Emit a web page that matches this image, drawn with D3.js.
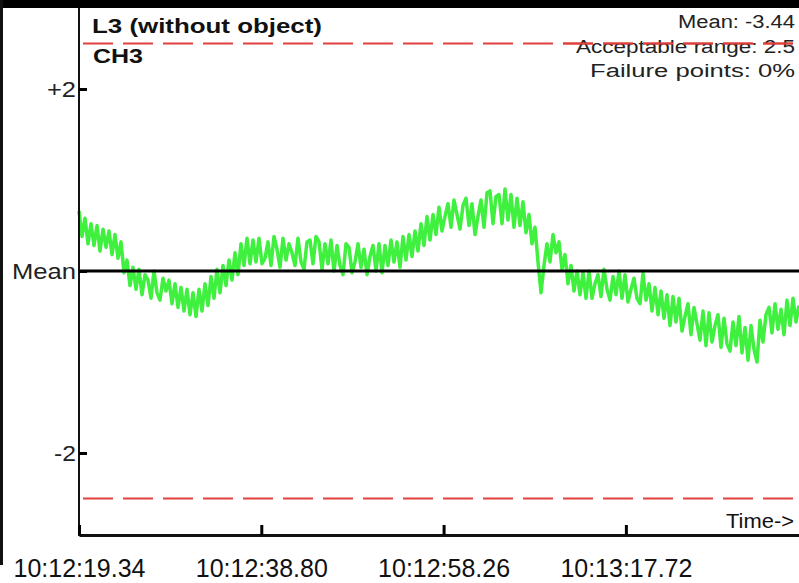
<!DOCTYPE html>
<html>
<head>
<meta charset="utf-8">
<script src="https://cdn.jsdelivr.net/npm/d3@7"></script>
<style>
  body { margin: 0; background: #fff; }
  svg { display: block; font-family: "Liberation Sans", Arial, sans-serif; }
</style>
</head>
<body>
<div id="chart"></div>
<script>
// donnees
const title = "L3 (without object)";
const channel = "CH3";
const statLines = ["Mean: -3.44", "Acceptable range: 2.5", "Failure points: 0%"];
const acceptableRange = 2.5;
const yTicks = [2, 0, -2];
const yTickLabels = ["+2", "Mean", "-2"];
const tickSeconds = [0, 19.46, 38.92, 58.38];
const tickLabels = ["10:12:19.34", "10:12:38.80", "10:12:58.26", "10:13:17.72"];
const timeSpan = 76.86;     // secondes visibles
const sampleStep = 0.32025; // secondes entre deux points

// ecart a la moyenne (canal CH3)
const deviation = [
  0.66, 0.38, 0.58, 0.30, 0.52, 0.28, 0.50, 0.22, 0.46, 0.26,
  0.44, 0.18, 0.40, 0.14, 0.32, -0.02, 0.12, -0.16, 0.04, -0.20,
  0.02, -0.26, -0.04, -0.10, -0.30, 0.00, -0.24, -0.32, -0.08, -0.22,
  -0.10, -0.36, -0.14, -0.40, -0.18, -0.44, -0.20, -0.48, -0.24, -0.50,
  -0.20, -0.44, -0.14, -0.38, -0.06, -0.30, 0.02, -0.24, 0.06, -0.16,
  0.12, -0.10, 0.20, -0.04, 0.30, 0.06, 0.36, 0.08, 0.34, 0.10,
  0.36, 0.08, 0.14, 0.32, 0.06, 0.38, 0.24, 0.04, 0.36, 0.12,
  0.30, 0.20, 0.06, 0.36, 0.10, 0.02, 0.32, 0.34, 0.08, 0.38,
  0.32, 0.02, 0.30, 0.08, 0.34, 0.00, 0.28, 0.06, -0.04, 0.30,
  0.26, -0.02, 0.10, 0.30, 0.04, 0.24, -0.04, 0.16, 0.28, 0.00,
  0.30, -0.02, 0.28, 0.06, 0.34, 0.10, 0.32, 0.04, 0.38, 0.12,
  0.40, 0.16, 0.44, 0.22, 0.52, 0.28, 0.60, 0.34, 0.62, 0.40,
  0.70, 0.44, 0.60, 0.74, 0.48, 0.78, 0.62, 0.46, 0.72, 0.80,
  0.50, 0.74, 0.40, 0.60, 0.78, 0.48, 0.86, 0.88, 0.52, 0.82,
  0.84, 0.52, 0.90, 0.56, 0.84, 0.48, 0.80, 0.50, 0.76, 0.42,
  0.62, 0.30, 0.48, 0.10, -0.24, 0.06, 0.30, 0.10, 0.40, 0.20,
  0.32, 0.02, 0.18, -0.14, 0.06, -0.22, 0.00, -0.26, -0.02, -0.30,
  0.00, -0.30, -0.14, -0.04, -0.28, 0.02, -0.20, -0.32, -0.06, -0.26,
  0.00, -0.30, -0.04, -0.34, -0.20, -0.08, -0.30, -0.36, -0.02, -0.32,
  -0.14, -0.44, -0.18, -0.48, -0.22, -0.52, -0.26, -0.60, -0.28, -0.56,
  -0.30, -0.66, -0.50, -0.36, -0.70, -0.40, -0.58, -0.76, -0.44, -0.82,
  -0.46, -0.78, -0.60, -0.48, -0.84, -0.52, -0.80, -0.88, -0.56, -0.82,
  -0.50, -0.90, -0.62, -0.98, -0.60, -0.86, -1.00, -0.54, -0.78, -0.48,
  -0.40, -0.68, -0.36, -0.64, -0.42, -0.70, -0.32, -0.60, -0.30, -0.56,
  -0.38
];

const W = 799, H = 583;
const svg = d3.select("#chart").append("svg")
  .attr("width", W)
  .attr("height", H);

//echelles
const x = d3.scaleLinear().domain([0, timeSpan]).range([79, 799]);
const y = d3.scaleLinear().domain([-3, 3]).range([544, -2]);
const xAxisY = 535;

//cadre : barre du haut et bord gauche
svg.append("rect").attr("x", 0).attr("y", 0).attr("width", W).attr("height", 8).attr("fill", "#000");
svg.append("line").attr("x1", 1.5).attr("x2", 1.5).attr("y1", 0).attr("y2", 565)
  .attr("stroke", "#111").attr("stroke-width", 3);

//limites acceptables
svg.selectAll(".limit")
  .data([acceptableRange, -acceptableRange])
  .enter().append("line")
  .attr("class", "limit")
  .attr("x1", 83).attr("x2", W)
  .attr("y1", d => y(d)).attr("y2", d => y(d))
  .attr("stroke", "#e0403c")
  .attr("stroke-width", 2)
  .attr("stroke-dasharray", "30,10");

//courbe
const line = d3.line()
  .x((d, i) => x(i * sampleStep))
  .y(d => y(d));

svg.append("path")
  .datum(deviation)
  .attr("d", line)
  .attr("fill", "none")
  .attr("stroke", "#3ff03f")
  .attr("stroke-width", 3.5)
  .attr("stroke-linejoin", "round");

//ligne moyenne
svg.append("line")
  .attr("x1", 79).attr("x2", W)
  .attr("y1", y(0)).attr("y2", y(0))
  .attr("stroke", "#000").attr("stroke-width", 3);

//axe Y
svg.append("line").attr("x1", 79).attr("x2", 79).attr("y1", 8).attr("y2", xAxisY + 1)
  .attr("stroke", "#111").attr("stroke-width", 2);

const yLabelLengths = [29, 64, 22];
const yAxis = svg.append("g")
  .attr("transform", "translate(79,0)")
  .call(d3.axisLeft(y).tickValues(yTicks).tickSize(-8).tickPadding(3)
    .tickFormat((d, i) => yTickLabels[i]));
yAxis.select(".domain").remove();
yAxis.selectAll(".tick line").attr("stroke", "#000").attr("stroke-width", 3);
yAxis.selectAll(".tick text")
  .attr("font-size", 22)
  .attr("fill", "#222")
  .attr("font-family", "Liberation Sans, Arial, sans-serif")
  .attr("dy", "0.36em")
  .attr("textLength", (d, i) => yLabelLengths[i])
  .attr("lengthAdjust", "spacingAndGlyphs");

//axe X
const xAxis = svg.append("g")
  .attr("transform", `translate(0,${xAxisY})`)
  .call(d3.axisBottom(x).tickValues(tickSeconds).tickSize(-10).tickSizeOuter(0).tickPadding(42)
    .tickFormat((d, i) => tickLabels[i]));
xAxis.select(".domain").attr("stroke", "#111").attr("stroke-width", 3);
xAxis.selectAll(".tick line").attr("stroke", "#000").attr("stroke-width", 3);
xAxis.selectAll(".tick text")
  .attr("font-size", 26)
  .attr("fill", "#111")
  .attr("font-family", "Liberation Sans, Arial, sans-serif")
  .attr("dy", 0)
  .attr("textLength", 132)
  .attr("lengthAdjust", "spacingAndGlyphs");

svg.append("text")
  .attr("x", 794).attr("y", 528)
  .attr("text-anchor", "end")
  .attr("font-size", 20)
  .attr("fill", "#111")
  .attr("textLength", 68).attr("lengthAdjust", "spacingAndGlyphs")
  .text("Time->");

//titres
svg.append("text")
  .attr("x", 92).attr("y", 33)
  .attr("font-size", 20).attr("font-weight", "bold").attr("fill", "#111")
  .attr("textLength", 230).attr("lengthAdjust", "spacingAndGlyphs")
  .text(title);
svg.append("text")
  .attr("x", 93).attr("y", 63)
  .attr("font-size", 20).attr("font-weight", "bold").attr("fill", "#111")
  .attr("textLength", 50).attr("lengthAdjust", "spacingAndGlyphs")
  .text(channel);

//statistiques
const statLengths = [117, 219, 205];
svg.selectAll(".stat")
  .data(statLines)
  .enter().append("text")
  .attr("class", "stat")
  .attr("x", 795)
  .attr("y", (d, i) => 28 + i * 24.5)
  .attr("text-anchor", "end")
  .attr("font-size", 18)
  .attr("fill", "#222")
  .attr("textLength", (d, i) => statLengths[i])
  .attr("lengthAdjust", "spacingAndGlyphs")
  .text(d => d);

// la ligne rouge du haut passe par-dessus le texte
svg.append("line")
  .attr("x1", 560).attr("x2", W)
  .attr("y1", y(acceptableRange)).attr("y2", y(acceptableRange))
  .attr("stroke", "#e0403c").attr("stroke-width", 2)
  .attr("stroke-dasharray", "30,10")
  .attr("stroke-dashoffset", (560 - 83));
</script>
</body>
</html>
